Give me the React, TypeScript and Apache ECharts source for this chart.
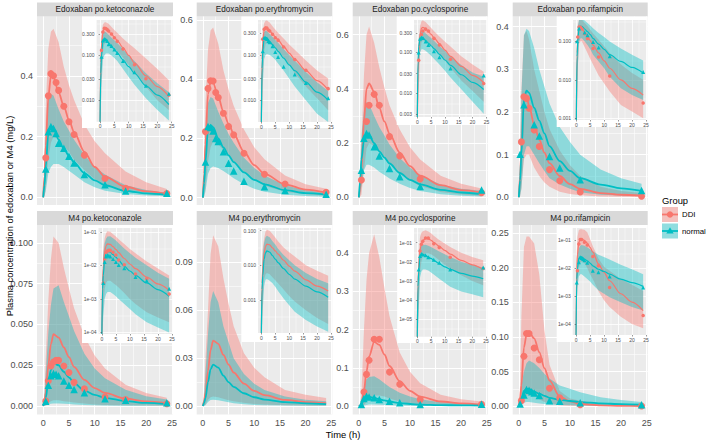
import React, { useEffect, useRef } from 'react';
import * as echarts from 'echarts';

// ---------------- data ----------------
const TIME = [0, 0.25, 0.5, 1, 1.5, 2, 3, 4, 5, 6, 8, 10, 12, 16, 20, 24];

const PANEL_TITLES = [
  'Edoxaban po.ketoconazole', 'Edoxaban po.erythromycin', 'Edoxaban po.cyclosporine', 'Edoxaban po.rifampicin',
  'M4 po.ketoconazole', 'M4 po.erythromycin', 'M4 po.cyclosporine', 'M4 po.rifampicin',
];
const GROUP_NAMES = ['DDI', 'normal'];
const X_TICKS = [0, 5, 10, 15, 20, 25];

// Edoxaban + ketoconazole
const EK_DDI_MED = [0, 0.07, 0.17, 0.33, 0.40, 0.395, 0.345, 0.30, 0.255, 0.215, 0.15, 0.10, 0.068, 0.035, 0.02, 0.012];
const EK_DDI_HI = [0, 0.12, 0.3, 0.49, 0.545, 0.555, 0.51, 0.43, 0.37, 0.32, 0.24, 0.185, 0.145, 0.085, 0.05, 0.028];
const EK_DDI_LO = [0, 0.005, 0.03, 0.13, 0.18, 0.2, 0.19, 0.17, 0.15, 0.125, 0.09, 0.06, 0.04, 0.02, 0.01, 0.006];
const EK_NOR_MED = [0, 0.04, 0.1, 0.21, 0.235, 0.228, 0.19, 0.16, 0.137, 0.115, 0.08, 0.056, 0.04, 0.021, 0.013, 0.008];
const EK_NOR_HI = [0, 0.08, 0.2, 0.32, 0.34, 0.335, 0.29, 0.25, 0.22, 0.19, 0.14, 0.1, 0.075, 0.04, 0.024, 0.015];
const EK_NOR_LO = [0, 0.005, 0.02, 0.08, 0.1, 0.11, 0.11, 0.1, 0.088, 0.075, 0.05, 0.033, 0.022, 0.011, 0.006, 0.0035];
const EK_DDI_OBS_T = [0.5, 1, 1.5, 2, 2.5, 3, 4, 5, 6, 8, 12, 16, 24];
const EK_DDI_OBS = [0.13, 0.334, 0.407, 0.40, 0.378, 0.352, 0.30, 0.249, 0.207, 0.139, 0.062, 0.030, 0.013];
const EK_NOR_OBS_T = [0.5, 1, 1.5, 2, 2.5, 3, 4, 5, 6, 8, 12, 16, 24];
const EK_NOR_OBS = [0.093, 0.216, 0.233, 0.227, 0.21, 0.178, 0.162, 0.135, 0.113, 0.075, 0.042, 0.021, 0.014];

// Edoxaban + erythromycin
const EE_DDI_MED = [0, 0.08, 0.18, 0.35, 0.39, 0.388, 0.34, 0.29, 0.25, 0.215, 0.155, 0.11, 0.08, 0.045, 0.027, 0.017];
const EE_DDI_HI = [0, 0.14, 0.32, 0.5, 0.565, 0.575, 0.52, 0.43, 0.365, 0.31, 0.23, 0.17, 0.13, 0.075, 0.045, 0.03];
const EE_DDI_LO = [0, 0.005, 0.03, 0.12, 0.17, 0.19, 0.18, 0.16, 0.14, 0.12, 0.085, 0.06, 0.04, 0.02, 0.011, 0.006];
const EE_NOR_MED = [0, 0.05, 0.12, 0.23, 0.245, 0.238, 0.2, 0.17, 0.143, 0.12, 0.085, 0.06, 0.045, 0.025, 0.015, 0.01];
const EE_NOR_HI = [0, 0.09, 0.2, 0.32, 0.34, 0.335, 0.29, 0.25, 0.215, 0.185, 0.135, 0.1, 0.075, 0.042, 0.025, 0.016];
const EE_NOR_LO = [0, 0.004, 0.02, 0.08, 0.1, 0.105, 0.1, 0.09, 0.078, 0.065, 0.045, 0.03, 0.02, 0.01, 0.005, 0.003];
const EE_DDI_OBS_T = [0.5, 1, 1.5, 2, 2.5, 3, 4, 5, 6, 8, 12, 16, 24];
const EE_DDI_OBS = [0.223, 0.369, 0.395, 0.394, 0.355, 0.338, 0.285, 0.24, 0.212, 0.15, 0.079, 0.046, 0.018];
const EE_NOR_OBS_T = [0.5, 1, 1.5, 2, 2.5, 3, 4, 5, 6, 8, 12, 16, 24];
const EE_NOR_OBS = [0.12, 0.24, 0.237, 0.225, 0.2, 0.19, 0.155, 0.116, 0.09, 0.055, 0.037, 0.024, 0.011];

// Edoxaban + cyclosporine
const EC_DDI_MED = [0, 0.03, 0.1, 0.28, 0.4, 0.42, 0.39, 0.33, 0.28, 0.235, 0.165, 0.115, 0.08, 0.045, 0.027, 0.018];
const EC_DDI_HI = [0, 0.06, 0.2, 0.45, 0.6, 0.63, 0.57, 0.48, 0.405, 0.34, 0.25, 0.185, 0.14, 0.08, 0.05, 0.033];
const EC_DDI_LO = [0, 0.002, 0.01, 0.1, 0.18, 0.2, 0.19, 0.17, 0.148, 0.125, 0.09, 0.062, 0.042, 0.02, 0.011, 0.006];
const EC_NOR_MED = [0, 0.06, 0.14, 0.21, 0.235, 0.23, 0.2, 0.17, 0.147, 0.125, 0.09, 0.065, 0.048, 0.028, 0.018, 0.012];
const EC_NOR_HI = [0, 0.1, 0.22, 0.32, 0.352, 0.345, 0.3, 0.26, 0.228, 0.195, 0.145, 0.11, 0.082, 0.048, 0.032, 0.025];
const EC_NOR_LO = [0, 0.01, 0.04, 0.1, 0.12, 0.12, 0.11, 0.095, 0.083, 0.07, 0.05, 0.035, 0.024, 0.012, 0.006, 0.003];
const EC_DDI_OBS_T = [0.5, 1.5, 2, 3, 4, 6, 8, 12, 24];
const EC_DDI_OBS = [0.064, 0.28, 0.34, 0.38, 0.34, 0.224, 0.153, 0.068, 0.017];
const EC_NOR_OBS_T = [0.5, 1, 1.5, 2, 3, 4, 6, 8, 12, 24];
const EC_NOR_OBS = [0.1, 0.218, 0.236, 0.23, 0.187, 0.153, 0.107, 0.076, 0.04, 0.027];

// Edoxaban + rifampicin
const ER_DDI_MED = [0, 0.05, 0.11, 0.23, 0.235, 0.215, 0.17, 0.135, 0.105, 0.08, 0.05, 0.031, 0.02, 0.01, 0.006, 0.004];
const ER_DDI_HI = [0, 0.1, 0.25, 0.38, 0.39, 0.37, 0.3, 0.25, 0.2, 0.16, 0.11, 0.075, 0.05, 0.025, 0.015, 0.01];
const ER_DDI_LO = [0, 0.003, 0.02, 0.09, 0.1, 0.1, 0.07, 0.05, 0.035, 0.025, 0.013, 0.008, 0.005, 0.0022, 0.0015, 0.001];
const ER_NOR_MED = [0, 0.04, 0.1, 0.23, 0.25, 0.245, 0.21, 0.18, 0.15, 0.12, 0.085, 0.062, 0.045, 0.03, 0.021, 0.015];
const ER_NOR_HI = [0, 0.09, 0.24, 0.38, 0.395, 0.39, 0.35, 0.3, 0.26, 0.22, 0.165, 0.13, 0.1, 0.065, 0.045, 0.032];
const ER_NOR_LO = [0, 0.003, 0.02, 0.1, 0.12, 0.12, 0.1, 0.08, 0.062, 0.045, 0.03, 0.02, 0.012, 0.006, 0.004, 0.003];
const ER_DDI_OBS_T = [0.5, 1, 1.5, 2, 3, 4, 6, 8, 12, 24];
const ER_DDI_OBS = [0.13, 0.236, 0.232, 0.209, 0.158, 0.119, 0.065, 0.039, 0.0125, 0.0025];
const ER_NOR_OBS_T = [0.25, 1, 3, 4, 6, 8, 12, 24];
const ER_NOR_OBS = [0.101, 0.217, 0.17, 0.144, 0.096, 0.069, 0.041, 0.016];

// M4 + ketoconazole
const MK_DDI_MED = [0, 0.003, 0.008, 0.025, 0.038, 0.044, 0.042, 0.036, 0.03, 0.024, 0.016, 0.011, 0.008, 0.0045, 0.0028, 0.0018];
const MK_DDI_HI = [0, 0.008, 0.03, 0.065, 0.09, 0.104, 0.1, 0.085, 0.072, 0.06, 0.043, 0.031, 0.023, 0.013, 0.008, 0.005];
const MK_DDI_LO = [0, 0.0001, 0.0005, 0.002, 0.003, 0.0035, 0.0035, 0.003, 0.0026, 0.0022, 0.0015, 0.001, 0.0007, 0.0004, 0.00028, 0.0002];
const MK_NOR_MED = [0, 0.002, 0.005, 0.015, 0.022, 0.026, 0.025, 0.021, 0.0175, 0.014, 0.0095, 0.0068, 0.005, 0.003, 0.0019, 0.0012];
const MK_NOR_HI = [0, 0.006, 0.02, 0.045, 0.062, 0.072, 0.074, 0.064, 0.055, 0.046, 0.032, 0.023, 0.017, 0.01, 0.006, 0.004];
const MK_NOR_LO = [0, 0.00005, 0.0003, 0.001, 0.0014, 0.0016, 0.0016, 0.0014, 0.0012, 0.001, 0.0007, 0.0005, 0.00035, 0.0002, 0.00014, 0.0001];
const MK_DDI_OBS_T = [0.5, 1, 1.5, 2, 2.5, 3, 4, 5, 6, 8, 12, 16, 24];
const MK_DDI_OBS = [0.003, 0.0155, 0.0245, 0.027, 0.028, 0.028, 0.0245, 0.0205, 0.0145, 0.0105, 0.0055, 0.004, 0.0014];
const MK_NOR_OBS_T = [0.5, 1, 1.5, 2, 2.5, 3, 4, 5, 6, 8, 12, 16, 24];
const MK_NOR_OBS = [0.003, 0.0127, 0.0185, 0.02, 0.0195, 0.0185, 0.0154, 0.0127, 0.0102, 0.0082, 0.0045, 0.0035, 0.002];

// M4 + erythromycin (no observations)
const ME_DDI_MED = [0, 0.003, 0.008, 0.022, 0.035, 0.041, 0.039, 0.032, 0.026, 0.021, 0.014, 0.0095, 0.0068, 0.0038, 0.0025, 0.0018];
const ME_DDI_HI = [0, 0.01, 0.03, 0.06, 0.095, 0.107, 0.1, 0.08, 0.064, 0.05, 0.033, 0.024, 0.018, 0.01, 0.007, 0.005];
const ME_DDI_LO = [0, 0.0003, 0.001, 0.004, 0.0055, 0.006, 0.0055, 0.0045, 0.0037, 0.003, 0.002, 0.0013, 0.0009, 0.0005, 0.0003, 0.0002];
const ME_NOR_MED = [0, 0.002, 0.005, 0.015, 0.023, 0.026, 0.024, 0.019, 0.015, 0.012, 0.008, 0.0055, 0.004, 0.0025, 0.0017, 0.0012];
const ME_NOR_HI = [0, 0.006, 0.02, 0.045, 0.065, 0.072, 0.065, 0.05, 0.04, 0.03, 0.02, 0.014, 0.01, 0.006, 0.004, 0.003];
const ME_NOR_LO = [0, 0.0001, 0.0005, 0.0025, 0.0038, 0.004, 0.0036, 0.003, 0.0024, 0.0018, 0.0011, 0.0007, 0.00045, 0.00026, 0.00017, 0.00012];

// M4 + cyclosporine
const MC_DDI_MED = [0, 0.001, 0.005, 0.04, 0.09, 0.13, 0.168, 0.16, 0.135, 0.105, 0.065, 0.04, 0.025, 0.012, 0.007, 0.004];
const MC_DDI_HI = [0, 0.005, 0.03, 0.2, 0.33, 0.4, 0.45, 0.39, 0.31, 0.235, 0.14, 0.09, 0.06, 0.03, 0.018, 0.012];
const MC_DDI_LO = [0, 0.00001, 0.0001, 0.003, 0.01, 0.02, 0.028, 0.028, 0.025, 0.02, 0.012, 0.007, 0.0045, 0.002, 0.001, 0.0006];
const MC_NOR_MED = [0, 0.0005, 0.003, 0.02, 0.023, 0.024, 0.022, 0.018, 0.015, 0.012, 0.008, 0.0055, 0.004, 0.0025, 0.0018, 0.0013];
const MC_NOR_HI = [0, 0.003, 0.015, 0.05, 0.07, 0.076, 0.078, 0.07, 0.06, 0.05, 0.035, 0.025, 0.018, 0.01, 0.007, 0.005];
const MC_NOR_LO = [0, 0.000002, 0.00002, 0.0015, 0.003, 0.004, 0.004, 0.0035, 0.0028, 0.0022, 0.0013, 0.0008, 0.0005, 0.00028, 0.0002, 0.00014];
const MC_DDI_OBS_T = [1, 1.5, 2, 3, 4, 6, 8, 12, 24];
const MC_DDI_OBS = [0.037, 0.083, 0.12, 0.175, 0.175, 0.089, 0.057, 0.0175, 0.0045];
const MC_NOR_OBS_T = [0.5, 1, 1.5, 2, 3, 4, 6, 8, 12, 24];
const MC_NOR_OBS = [0.004, 0.02, 0.026, 0.024, 0.022, 0.0175, 0.013, 0.009, 0.004, 0.005];

// M4 + rifampicin
const MR_DDI_MED = [0, 0.01, 0.03, 0.085, 0.103, 0.107, 0.098, 0.078, 0.055, 0.037, 0.014, 0.007, 0.0035, 0.0012, 0.0006, 0.0003];
const MR_DDI_HI = [0, 0.03, 0.13, 0.23, 0.245, 0.245, 0.235, 0.19, 0.11, 0.06, 0.022, 0.011, 0.008, 0.004, 0.0025, 0.0015];
const MR_DDI_LO = [0, 0.0005, 0.003, 0.01, 0.015, 0.017, 0.015, 0.01, 0.006, 0.004, 0.0015, 0.0007, 0.0004, 0.00018, 0.0001, 0.00007];
const MR_NOR_MED = [0, 0.004, 0.01, 0.022, 0.025, 0.025, 0.021, 0.018, 0.015, 0.012, 0.009, 0.0075, 0.006, 0.004, 0.003, 0.0022];
const MR_NOR_HI = [0, 0.01, 0.03, 0.05, 0.062, 0.066, 0.062, 0.055, 0.047, 0.04, 0.03, 0.025, 0.02, 0.013, 0.009, 0.006];
const MR_NOR_LO = [0, 0.0005, 0.002, 0.005, 0.006, 0.006, 0.005, 0.004, 0.0033, 0.0025, 0.0016, 0.0012, 0.0009, 0.0006, 0.0004, 0.0003];
const MR_DDI_OBS_T = [0.5, 1, 1.5, 2, 3, 4, 6, 8, 12, 24];
const MR_DDI_OBS = [0.008, 0.072, 0.105, 0.105, 0.084, 0.067, 0.026, 0.012, 0.002, 0.0002];
const MR_NOR_OBS_T = [0.25, 1, 1.5, 2, 2.5, 3, 4, 6, 8, 12, 24];
const MR_NOR_OBS = [0.003, 0.016, 0.024, 0.023, 0.021, 0.019, 0.0155, 0.008, 0.007, 0.005, 0.002];

// axis limits & tick labels (main: linear; inset: log10)
const X_LIM = [-1.2, 25.2];
const EK_Y_TICKS = [0, 0.2, 0.4];
const EE_Y_TICKS = [0, 0.2, 0.4, 0.6];
const EC_Y_TICKS = [0, 0.2, 0.4, 0.6];
const ER_Y_TICKS = [0, 0.1, 0.2, 0.3, 0.4];
const MK_Y_TICKS = [0, 0.025, 0.05, 0.075, 0.1];
const ME_Y_TICKS = [0, 0.03, 0.06, 0.09];
const MC_Y_TICKS = [0, 0.1, 0.2, 0.3, 0.4];
const MR_Y_TICKS = [0, 0.05, 0.1, 0.15, 0.2, 0.25];
const EK_Y_LABELS = ['0.0', '0.2', '0.4'];
const EE_Y_LABELS = ['0.0', '0.2', '0.4', '0.6'];
const EC_Y_LABELS = ['0.0', '0.2', '0.4', '0.6'];
const ER_Y_LABELS = ['0.0', '0.1', '0.2', '0.3', '0.4'];
const MK_Y_LABELS = ['0.000', '0.025', '0.050', '0.075', '0.100'];
const ME_Y_LABELS = ['0.00', '0.03', '0.06', '0.09'];
const MC_Y_LABELS = ['0.0', '0.1', '0.2', '0.3', '0.4'];
const MR_Y_LABELS = ['0.00', '0.05', '0.10', '0.15', '0.20', '0.25'];
const Y_LIMS = [[-0.025, 0.595], [-0.025, 0.612], [-0.028, 0.667], [-0.018, 0.424], [-0.0052, 0.111], [-0.0053, 0.1134], [-0.022, 0.474], [-0.012, 0.2616]];
const EK_LOG_TICKS = [0.01, 0.03, 0.1, 0.3];
const EE_LOG_TICKS = [0.01, 0.03, 0.1, 0.3];
const EC_LOG_TICKS = [0.003, 0.01, 0.03, 0.1, 0.3];
const ER_LOG_TICKS = [0.001, 0.01, 0.1];
const MK_LOG_TICKS = [1e-4, 1e-3, 1e-2, 1e-1];
const ME_LOG_TICKS = [0.001, 0.01, 0.1];
const MC_LOG_TICKS = [1e-5, 1e-4, 1e-3, 1e-2, 1e-1];
const MR_LOG_TICKS = [1e-4, 1e-3, 1e-2, 1e-1];
const EK_LOG_LABELS = ['0.010', '0.030', '0.100', '0.300'];
const EE_LOG_LABELS = ['0.010', '0.030', '0.100', '0.300'];
const EC_LOG_LABELS = ['0.003', '0.010', '0.030', '0.100', '0.300'];
const ER_LOG_LABELS = ['0.001', '0.010', '0.100'];
const MK_LOG_LABELS = ['1e-04', '1e-03', '1e-02', '1e-01'];
const ME_LOG_LABELS = ['0.001', '0.010', '0.100'];
const MC_LOG_LABELS = ['1e-05', '1e-04', '1e-03', '1e-02', '1e-01'];
const MR_LOG_LABELS = ['1e-04', '1e-03', '1e-02', '1e-01'];
const LOG_LIMS = [[0.0033, 0.62], [0.0033, 0.59], [0.0025, 0.64], [0.0009, 0.36], [9e-5, 0.13], [1.1e-4, 0.12], [1.2e-6, 0.59], [4e-5, 0.27]];

const PANELS = [
  { ddi: [EK_DDI_LO, EK_DDI_MED, EK_DDI_HI], nor: [EK_NOR_LO, EK_NOR_MED, EK_NOR_HI], ddiObs: [EK_DDI_OBS_T, EK_DDI_OBS], norObs: [EK_NOR_OBS_T, EK_NOR_OBS], yTicks: EK_Y_TICKS, yLabels: EK_Y_LABELS, logTicks: EK_LOG_TICKS, logLabels: EK_LOG_LABELS },
  { ddi: [EE_DDI_LO, EE_DDI_MED, EE_DDI_HI], nor: [EE_NOR_LO, EE_NOR_MED, EE_NOR_HI], ddiObs: [EE_DDI_OBS_T, EE_DDI_OBS], norObs: [EE_NOR_OBS_T, EE_NOR_OBS], yTicks: EE_Y_TICKS, yLabels: EE_Y_LABELS, logTicks: EE_LOG_TICKS, logLabels: EE_LOG_LABELS },
  { ddi: [EC_DDI_LO, EC_DDI_MED, EC_DDI_HI], nor: [EC_NOR_LO, EC_NOR_MED, EC_NOR_HI], ddiObs: [EC_DDI_OBS_T, EC_DDI_OBS], norObs: [EC_NOR_OBS_T, EC_NOR_OBS], yTicks: EC_Y_TICKS, yLabels: EC_Y_LABELS, logTicks: EC_LOG_TICKS, logLabels: EC_LOG_LABELS },
  { ddi: [ER_DDI_LO, ER_DDI_MED, ER_DDI_HI], nor: [ER_NOR_LO, ER_NOR_MED, ER_NOR_HI], ddiObs: [ER_DDI_OBS_T, ER_DDI_OBS], norObs: [ER_NOR_OBS_T, ER_NOR_OBS], yTicks: ER_Y_TICKS, yLabels: ER_Y_LABELS, logTicks: ER_LOG_TICKS, logLabels: ER_LOG_LABELS },
  { ddi: [MK_DDI_LO, MK_DDI_MED, MK_DDI_HI], nor: [MK_NOR_LO, MK_NOR_MED, MK_NOR_HI], ddiObs: [MK_DDI_OBS_T, MK_DDI_OBS], norObs: [MK_NOR_OBS_T, MK_NOR_OBS], yTicks: MK_Y_TICKS, yLabels: MK_Y_LABELS, logTicks: MK_LOG_TICKS, logLabels: MK_LOG_LABELS },
  { ddi: [ME_DDI_LO, ME_DDI_MED, ME_DDI_HI], nor: [ME_NOR_LO, ME_NOR_MED, ME_NOR_HI], ddiObs: null, norObs: null, yTicks: ME_Y_TICKS, yLabels: ME_Y_LABELS, logTicks: ME_LOG_TICKS, logLabels: ME_LOG_LABELS },
  { ddi: [MC_DDI_LO, MC_DDI_MED, MC_DDI_HI], nor: [MC_NOR_LO, MC_NOR_MED, MC_NOR_HI], ddiObs: [MC_DDI_OBS_T, MC_DDI_OBS], norObs: [MC_NOR_OBS_T, MC_NOR_OBS], yTicks: MC_Y_TICKS, yLabels: MC_Y_LABELS, logTicks: MC_LOG_TICKS, logLabels: MC_LOG_LABELS },
  { ddi: [MR_DDI_LO, MR_DDI_MED, MR_DDI_HI], nor: [MR_NOR_LO, MR_NOR_MED, MR_NOR_HI], ddiObs: [MR_DDI_OBS_T, MR_DDI_OBS], norObs: [MR_NOR_OBS_T, MR_NOR_OBS], yTicks: MR_Y_TICKS, yLabels: MR_Y_LABELS, logTicks: MR_LOG_TICKS, logLabels: MR_LOG_LABELS },
];

// ---------------- layout & style ----------------
const FONT = '"Liberation Sans", Arial, Helvetica, sans-serif';
const DDI_COLOR = '#F8766D';
const NOR_COLOR = '#00BFC4';
const DDI_FILL = 'rgba(248,118,109,0.4)';
const NOR_FILL = 'rgba(0,191,196,0.4)';
const PANEL_BG = '#EBEBEB';
const STRIP_BG = '#D9D9D9';
const AXIS_TEXT = '#4D4D4D';

const MAIN_BOX = [
  [37, 16.5, 136, 188.5], [196.7, 16.5, 135.6, 188.5], [352.7, 16.5, 135, 188.5], [512.7, 16.5, 135, 188.5],
  [37, 225, 136, 189.5], [196.7, 225, 135.6, 189.5], [352.7, 225, 135, 189.5], [512.7, 225, 135, 189.5],
];
const STRIP_H = 14;
const INSET_PANEL = [
  [96.6, 20, 172.3, 121.7], [258, 20, 331.5, 122], [414, 20, 487, 117], [573, 20, 646.5, 120],
  [98.5, 228, 172.5, 334], [258, 228, 331.5, 333], [414, 228, 486.5, 336.7], [572.7, 228, 646.5, 335],
];
const INSET_BG = [
  [82, 16.5, 173, 128], [241.7, 16.5, 332.3, 128], [396.7, 16.5, 487.7, 125], [556.7, 16.5, 647.7, 127],
  [82, 225, 173, 343], [241.7, 225, 332.3, 342], [397.3, 225, 487.7, 343], [556.7, 225, 647.7, 342],
];

function minorBreaks(maj: number[], lo: number, hi: number): number[] {
  if (maj.length < 2) return [];
  const b = maj.slice();
  if (lo < b[0]) b.unshift(b[0] - (b[1] - b[0]));
  const n = b.length;
  if (hi > b[n - 1]) b.push(b[n - 1] + (b[n - 1] - b[n - 2]));
  const out: number[] = [];
  for (let k = 0; k < b.length - 1; k++) out.push((b[k] + b[k + 1]) / 2);
  return out.filter((v) => v > lo && v < hi);
}

function labelFor(ticks: number[], labels: string[]) {
  return (v: number) => {
    let best = 0;
    for (let k = 1; k < ticks.length; k++) if (Math.abs(ticks[k] - v) < Math.abs(ticks[best] - v)) best = k;
    return labels[best];
  };
}

function gridLineSeries(g: number, xMaj: number[], xLim: number[], yMaj: number[], yLim: number[], z: number, majW: number, minW: number) {
  const data: any[] = [];
  minorBreaks(xMaj, xLim[0], xLim[1]).forEach((v) => data.push({ xAxis: v, lineStyle: { width: minW } }));
  minorBreaks(yMaj, yLim[0], yLim[1]).forEach((v) => data.push({ yAxis: v, lineStyle: { width: minW } }));
  xMaj.filter((v) => v >= xLim[0] && v <= xLim[1]).forEach((v) => data.push({ xAxis: v, lineStyle: { width: majW } }));
  yMaj.filter((v) => v >= yLim[0] && v <= yLim[1]).forEach((v) => data.push({ yAxis: v, lineStyle: { width: majW } }));
  return {
    type: 'line', xAxisIndex: g, yAxisIndex: g, data: [], silent: true, z,
    markLine: {
      silent: true, z, symbol: ['none', 'none'], precision: 10, animation: false,
      label: { show: false }, emphasis: { disabled: true },
      lineStyle: { color: '#FFFFFF', type: 'solid', width: 1 },
      data,
    },
  };
}

function bandSeries(g: number, lo: number[], hi: number[], fill: string, z: number) {
  return {
    type: 'custom', xAxisIndex: g, yAxisIndex: g, z, silent: true, clip: true,
    data: TIME.map((t, k) => [t, lo[k], hi[k]]),
    encode: { x: 0, y: [1, 2] },
    renderItem: (params: any, api: any) => {
      if (params.dataIndexInside !== 0) return null;
      const n = params.dataInsideLength;
      const upper: number[][] = [];
      const lower: number[][] = [];
      for (let k = 0; k < n; k++) {
        const t = api.value(0, k);
        upper.push(api.coord([t, api.value(2, k)]));
        lower.push(api.coord([t, api.value(1, k)]));
      }
      return { type: 'polygon', shape: { points: upper.concat(lower.reverse()) }, style: { fill, stroke: null } };
    },
  };
}

function lineSeries(g: number, vals: number[], color: string, z: number, width: number) {
  return {
    type: 'line', xAxisIndex: g, yAxisIndex: g, z, silent: true, symbol: 'none', showSymbol: false,
    smooth: 0.3, smoothMonotone: 'x',
    data: TIME.map((t, k) => [t, vals[k]]),
    lineStyle: { color, width }, itemStyle: { color }, emphasis: { disabled: true },
  };
}

function pointSeries(g: number, ts: number[], vals: number[], color: string, symbol: string, size: number, z: number) {
  return {
    type: 'scatter', xAxisIndex: g, yAxisIndex: g, z, silent: true, symbol, symbolSize: size,
    data: ts.map((t, k) => [t, vals[k]]),
    itemStyle: { color, opacity: 1 }, emphasis: { disabled: true },
  };
}

function textEl(text: string, x: number, y: number, size: number, align: string, fill: string, z: number, rotation = 0) {
  return {
    type: 'text', z, x, y, rotation, silent: true,
    style: { text, x: 0, y: 0, fill, fontSize: size, fontFamily: FONT, textAlign: align, textVerticalAlign: 'middle', align, verticalAlign: 'middle' },
  };
}

function buildOption() {
  const grid: any[] = [];
  const xAxis: any[] = [];
  const yAxis: any[] = [];
  const series: any[] = [];
  const graphic: any[] = [];
  const xLabel = labelFor(X_TICKS, X_TICKS.map(String));

  // main panels (grid index 0..7)
  PANELS.forEach((p, i) => {
    const [gx, gy, gw, gh] = MAIN_BOX[i];
    const bottomRow = i >= 4;
    const yLim = Y_LIMS[i];
    grid.push({ left: gx, top: gy, width: gw, height: gh, show: true, backgroundColor: PANEL_BG, borderWidth: 0, z: 0 });
    xAxis.push({
      type: 'value', gridIndex: i, min: X_LIM[0], max: X_LIM[1],
      axisLine: { show: false }, splitLine: { show: false },
      axisTick: { show: bottomRow, length: 3, customValues: X_TICKS, lineStyle: { color: '#333333', width: 0.8 } },
      axisLabel: { show: bottomRow, customValues: X_TICKS, color: AXIS_TEXT, fontSize: 9, margin: 4, formatter: xLabel },
    });
    yAxis.push({
      type: 'value', gridIndex: i, min: yLim[0], max: yLim[1],
      axisLine: { show: false }, splitLine: { show: false },
      axisTick: { show: true, length: 3, customValues: p.yTicks, lineStyle: { color: '#333333', width: 0.8 } },
      axisLabel: { show: true, customValues: p.yTicks, color: AXIS_TEXT, fontSize: 9, margin: 4, formatter: labelFor(p.yTicks, p.yLabels), showMinLabel: true, showMaxLabel: true, hideOverlap: false },
    });
    series.push(gridLineSeries(i, X_TICKS, X_LIM, p.yTicks, yLim, 1, 1.1, 0.55));
    series.push(bandSeries(i, p.ddi[0], p.ddi[2], DDI_FILL, 2));
    series.push(bandSeries(i, p.nor[0], p.nor[2], NOR_FILL, 2));
    series.push(lineSeries(i, p.ddi[1], DDI_COLOR, 3, 1.8));
    series.push(lineSeries(i, p.nor[1], NOR_COLOR, 3, 1.8));
    if (p.ddiObs) series.push(pointSeries(i, p.ddiObs[0], p.ddiObs[1], DDI_COLOR, 'circle', 7, 4));
    if (p.norObs) series.push(pointSeries(i, p.norObs[0], p.norObs[1], NOR_COLOR, 'triangle', 7.5, 4));

    // strip
    graphic.push({ type: 'rect', z: 0, silent: true, shape: { x: gx, y: gy - STRIP_H, width: gw, height: STRIP_H }, style: { fill: STRIP_BG } });
    graphic.push(textEl(PANEL_TITLES[i], gx + gw / 2, gy - STRIP_H / 2, 8.2, 'center', '#1A1A1A', 1));
  });

  // insets (grid index 8..15)
  PANELS.forEach((p, i) => {
    const g = 8 + i;
    const [x0, y0, x1, y1] = INSET_PANEL[i];
    const [bx0, by0, bx1, by1] = INSET_BG[i];
    graphic.push({ type: 'rect', z: 10, silent: true, shape: { x: bx0, y: by0, width: bx1 - bx0, height: by1 - by0 }, style: { fill: '#FFFFFF' } });
    const lim = LOG_LIMS[i];
    const lLim = [Math.log10(lim[0]), Math.log10(lim[1])];
    const lTicks = p.logTicks.map((v) => Math.log10(v));
    const f = (v: number) => Math.log10(Math.max(v, lim[0]));
    grid.push({ left: x0, top: y0, width: x1 - x0, height: y1 - y0, show: true, backgroundColor: PANEL_BG, borderWidth: 0, z: 11 });
    xAxis.push({
      type: 'value', gridIndex: g, min: X_LIM[0], max: X_LIM[1], z: 16,
      axisLine: { show: false }, splitLine: { show: false },
      axisTick: { show: true, length: 1.5, customValues: X_TICKS, lineStyle: { color: '#333333', width: 0.5 } },
      axisLabel: { customValues: X_TICKS, color: AXIS_TEXT, fontSize: 5, margin: 2, formatter: xLabel },
    });
    yAxis.push({
      type: 'value', gridIndex: g, min: lLim[0], max: lLim[1], z: 16,
      axisLine: { show: false }, splitLine: { show: false },
      axisTick: { show: true, length: 1.5, customValues: lTicks, lineStyle: { color: '#333333', width: 0.5 } },
      axisLabel: { customValues: lTicks, color: AXIS_TEXT, fontSize: 5, margin: 2, formatter: labelFor(lTicks, p.logLabels) },
    });
    series.push(gridLineSeries(g, X_TICKS, X_LIM, lTicks, lLim, 12, 0.8, 0.4));
    series.push(bandSeries(g, p.ddi[0].map(f), p.ddi[2].map(f), DDI_FILL, 13));
    series.push(bandSeries(g, p.nor[0].map(f), p.nor[2].map(f), NOR_FILL, 13));
    series.push(lineSeries(g, p.ddi[1].map(f), DDI_COLOR, 14, 1.2));
    series.push(lineSeries(g, p.nor[1].map(f), NOR_COLOR, 14, 1.2));
    if (p.ddiObs) series.push(pointSeries(g, p.ddiObs[0], p.ddiObs[1].map(f), DDI_COLOR, 'circle', 3.5, 15));
    if (p.norObs) series.push(pointSeries(g, p.norObs[0], p.norObs[1].map(f), NOR_COLOR, 'triangle', 4, 15));
  });

  // axis titles
  graphic.push(textEl('Plasma concentration of edoxaban or M4 (mg/L)', 9, 216, 9.4, 'center', '#000000', 1, Math.PI / 2));
  graphic.push(textEl('Time (h)', 343, 434, 9.4, 'center', '#000000', 1));

  // legend
  graphic.push(textEl('Group', 662, 200, 9.4, 'left', '#000000', 1));
  const keys = [
    { name: GROUP_NAMES[0], fill: DDI_FILL, color: DDI_COLOR, cy: 214.5, shape: 'circle' },
    { name: GROUP_NAMES[1], fill: NOR_FILL, color: NOR_COLOR, cy: 231, shape: 'triangle' },
  ];
  keys.forEach((k) => {
    graphic.push({ type: 'rect', z: 1, silent: true, shape: { x: 662, y: k.cy - 7.5, width: 16, height: 15 }, style: { fill: '#F2F2F2' } });
    graphic.push({ type: 'rect', z: 2, silent: true, shape: { x: 662, y: k.cy - 7.5, width: 16, height: 15 }, style: { fill: k.fill } });
    graphic.push({ type: 'line', z: 3, silent: true, shape: { x1: 662, y1: k.cy, x2: 678, y2: k.cy }, style: { stroke: k.color, lineWidth: 1.8 } });
    if (k.shape === 'circle') {
      graphic.push({ type: 'circle', z: 4, silent: true, shape: { cx: 670, cy: k.cy, r: 3.2 }, style: { fill: k.color } });
    } else {
      graphic.push({ type: 'polygon', z: 4, silent: true, shape: { points: [[670, k.cy - 3.8], [666.3, k.cy + 2.6], [673.7, k.cy + 2.6]] }, style: { fill: k.color } });
    }
    graphic.push(textEl(k.name, 682, k.cy, 7.8, 'left', '#000000', 4));
  });

  return {
    animation: false,
    backgroundColor: '#FFFFFF',
    textStyle: { fontFamily: FONT },
    grid, xAxis, yAxis, series, graphic,
  };
}

export default function App() {
  const ref = useRef<HTMLDivElement>(null);
  useEffect(() => {
    if (!ref.current) return;
    const chart = echarts.init(ref.current, undefined, { renderer: 'svg' });
    chart.setOption(buildOption() as any);
    return () => chart.dispose();
  }, []);
  return <div ref={ref} style={{ position: 'fixed', left: 0, top: 0, width: 709, height: 442, background: '#fff' }} />;
}
